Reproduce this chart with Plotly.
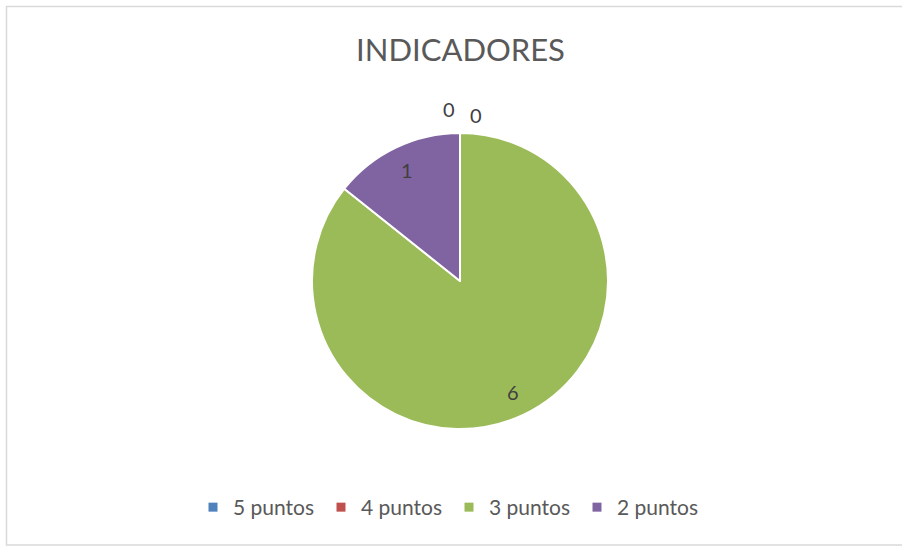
import math
import plotly.graph_objects as go

categories = ["5 puntos", "4 puntos", "3 puntos", "2 puntos"]
values = [0, 0, 6, 1]
colors = ["#4F81BD", "#C0504D", "#9BBB59", "#8064A2"]
title_text = "INDICADORES"

W, H = 902, 549
L, R, T, B = 6, 0, 133, 120
pw, ph = W - L - R, H - T - B
CX, CY, RAD = 460, 281, 148  # pie centre / radius in pixels


def px(x):
    return (x - L) / pw


def py(y):
    return (H - B - y) / ph


fig = go.Figure()
fig.add_trace(go.Pie(
    labels=categories, values=values, sort=False, direction="clockwise", rotation=0,
    domain=dict(x=[px(CX - RAD), px(CX + RAD)], y=[py(CY + RAD), py(CY - RAD)]),
    marker=dict(colors=colors, line=dict(color="white", width=2)),
    textinfo="none", hoverinfo="label+value", showlegend=False,
))

# legend entries (small square swatches, as in the original)
for name, col in zip(categories, colors):
    fig.add_trace(go.Scatter(x=[None], y=[None], mode="markers", name=name,
                             marker=dict(symbol="square", size=9, color=col),
                             showlegend=True, hoverinfo="skip"))

# data labels derived from the values
total = sum(values)
cum = 0
zero_pos = [(-11, 1.16), (15.5, 1.123)]
zi = 0
for v in values:
    mid = (cum + v / 2) / total * 2 * math.pi
    if v > 0:
        rr, xs = 0.83, 0
    else:
        xs, rr = zero_pos[zi]
        zi += 1
    x = CX + rr * RAD * math.sin(mid) + xs
    y = CY - rr * RAD * math.cos(mid)
    fig.add_annotation(x=px(x), y=py(y), xref="paper", yref="paper", text=str(v), showarrow=False,
                       xanchor="center", yanchor="middle",
                       font=dict(family="Lato", size=20, color="#404040"))
    cum += v

# chart border
fig.add_shape(type="rect", xref="paper", yref="paper",
              x0=px(6.5), x1=px(904), y0=py(545), y1=py(6.5),
              line=dict(color="#D9D9D9", width=1.5), fillcolor="rgba(0,0,0,0)", layer="below")

fig.update_layout(
    width=W, height=H, autosize=False,
    margin=dict(l=L, r=R, t=T, b=B, autoexpand=False),
    paper_bgcolor="white", plot_bgcolor="white",
    xaxis=dict(visible=False), yaxis=dict(visible=False),
    title=dict(text=title_text, x=460.5 / W, xanchor="center", y=1 - 50 / H, yanchor="middle",
               font=dict(family="Lato", size=31, color="#595959")),
    legend=dict(orientation="h", xref="container", yref="container",
                x=193 / W, xanchor="left", y=1 - 507.5 / H, yanchor="middle",
                font=dict(family="Lato", size=21, color="#595959"), traceorder="normal",
                itemwidth=30, entrywidth=83, entrywidthmode="pixels"),
    showlegend=True,
    font=dict(family="Lato"),
)

fig.write_html("out.html")
